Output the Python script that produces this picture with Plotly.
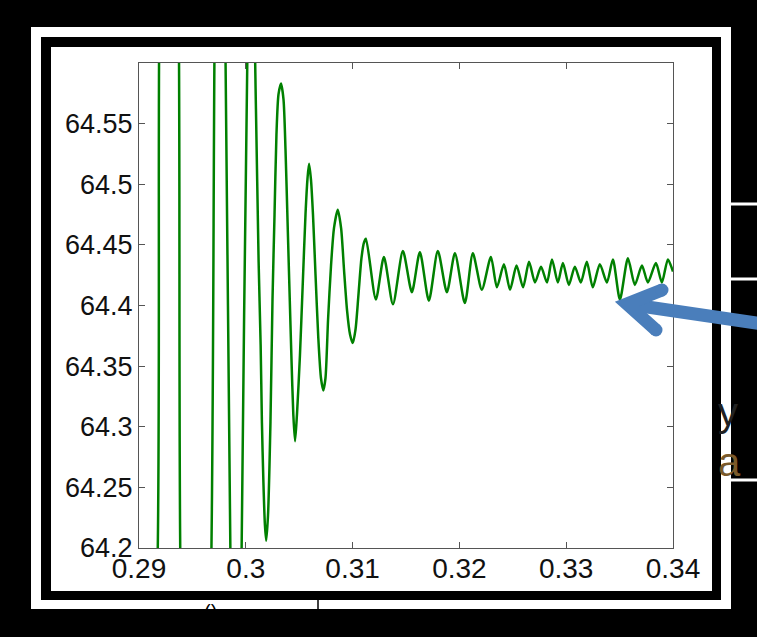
import plotly.graph_objects as go

# ---------------- data ----------------
t_s = [0.29000, 0.29164, 0.29192, 0.29281, 0.29370, 0.29393, 0.29524, 0.29669,
       0.29711, 0.29758, 0.29805, 0.29861, 0.29908, 0.29955, 0.30021, 0.30058,
       0.30095, 0.30120, 0.30139, 0.30151, 0.30165, 0.30179, 0.30191, 0.30208,
       0.30231, 0.30250, 0.30269, 0.30287, 0.30306, 0.30330, 0.30353, 0.30372,
       0.30391, 0.30409, 0.30428, 0.30445, 0.30461, 0.30479, 0.30507, 0.30532,
       0.30559, 0.30578, 0.30592, 0.30610, 0.30629, 0.30653, 0.30679, 0.30704,
       0.30726, 0.30746, 0.30770, 0.30798, 0.30826, 0.30861, 0.30892, 0.30920,
       0.30948, 0.30976, 0.31001, 0.31027, 0.31055, 0.31083, 0.31107, 0.31125,
       0.31218, 0.31293, 0.31378, 0.31471, 0.31555, 0.31630, 0.31714, 0.31798,
       0.31883, 0.31958, 0.32051, 0.32126, 0.32210, 0.32295, 0.32351, 0.32417,
       0.32474, 0.32535, 0.32596, 0.32652, 0.32708, 0.32764, 0.32820, 0.32867,
       0.32922, 0.32969, 0.33025, 0.33081, 0.33137, 0.33193, 0.33249, 0.33315,
       0.33381, 0.33437, 0.33503, 0.33578, 0.33643, 0.33709, 0.33765, 0.33840,
       0.33896, 0.33952, 0.34000]
freq_hz = [63.95, 64.15, 64.65, 64.95, 64.65, 64.15, 63.85, 64.15,
           64.65, 64.85, 64.65, 64.15, 63.95, 64.15, 64.65, 64.72,
           64.562, 64.436, 64.367, 64.303, 64.254, 64.219, 64.206, 64.227,
           64.304, 64.405, 64.475, 64.541, 64.574, 64.583, 64.570, 64.528,
           64.469, 64.413, 64.355, 64.310, 64.288, 64.310, 64.359, 64.415,
           64.475, 64.505, 64.517, 64.504, 64.475, 64.425, 64.373, 64.340,
           64.330, 64.340, 64.388, 64.433, 64.464, 64.479, 64.464, 64.429,
           64.396, 64.376, 64.369, 64.380, 64.409, 64.439, 64.452, 64.455,
           64.405, 64.440, 64.401, 64.445, 64.411, 64.444, 64.404, 64.445,
           64.411, 64.443, 64.402, 64.443, 64.413, 64.440, 64.415, 64.434,
           64.413, 64.433, 64.415, 64.436, 64.419, 64.432, 64.419, 64.438,
           64.419, 64.435, 64.417, 64.432, 64.419, 64.436, 64.415, 64.434,
           64.419, 64.438, 64.405, 64.439, 64.417, 64.433, 64.419, 64.435,
           64.419, 64.438, 64.428]

x_ticks = [0.29, 0.30, 0.31, 0.32, 0.33, 0.34]
x_labels = ["0.29", "0.3", "0.31", "0.32", "0.33", "0.34"]
y_ticks = [64.2, 64.25, 64.3, 64.35, 64.4, 64.45, 64.5, 64.55]
y_labels = ["64.2", "64.25", "64.3", "64.35", "64.4", "64.45", "64.5", "64.55"]

# ---------------- layout geometry (pixels) ----------------
W, H = 757, 637
L, R, T, B = 139, 673, 63, 548


def px(x):
    return (x - L) / (R - L)


def py(y):
    return (B - y) / (B - T)


def rect(x0, y0, x1, y1, color, layer="below"):
    return dict(type="rect", xref="paper", yref="paper",
                x0=px(x0), x1=px(x1), y0=py(y1), y1=py(y0),
                fillcolor=color, line=dict(width=0), layer=layer)


def seg(x0, y0, x1, y1, color, width, layer="above"):
    return dict(type="line", xref="paper", yref="paper",
                x0=px(x0), y0=py(y0), x1=px(x1), y1=py(y1),
                line=dict(color=color, width=width), layer=layer)


fig = go.Figure()
fig.add_trace(go.Scatter(x=t_s, y=freq_hz, mode="lines",
                         line=dict(color="#008000", width=2.5, shape="spline", smoothing=0.7),
                         hoverinfo="skip", showlegend=False))

arrow_c = "#4a7ebb"
shapes = [
    rect(31, 27, 731, 609, "white"),
    rect(41, 37, 721, 600, "black"),
    rect(51, 47, 712, 591, "white"),
    seg(721, 204, 757, 204, "white", 3, "below"),
    seg(721, 279, 757, 279, "white", 3, "below"),
    seg(721, 480, 757, 480, "white", 3, "below"),
    seg(318, 600, 318, 609, "black", 1.5, "below"),
    # arrow
    seg(627, 304, 790, 328, arrow_c, 13),
    dict(type="path", xref="paper", yref="paper", layer="above",
         path="M {:.5f},{:.5f} L {:.5f},{:.5f} L {:.5f},{:.5f}".format(
             px(662), py(290), px(627), py(304), px(656), py(330)),
         line=dict(color=arrow_c, width=13)),
    dict(type="circle", xref="paper", yref="paper", layer="above",
         x0=px(662 - 6.5), x1=px(662 + 6.5), y0=py(290 + 6.5), y1=py(290 - 6.5),
         fillcolor=arrow_c, line=dict(width=0)),
    dict(type="circle", xref="paper", yref="paper", layer="above",
         x0=px(656 - 6.5), x1=px(656 + 6.5), y0=py(330 + 6.5), y1=py(330 - 6.5),
         fillcolor=arrow_c, line=dict(width=0)),
]

annotations = [
    dict(xref="paper", yref="paper", x=px(202), y=py(612), text="()",
         showarrow=False, font=dict(family="Liberation Sans, Arial", size=20, color="black"),
         xanchor="left", yanchor="middle"),
    dict(xref="paper", yref="paper", x=px(716), y=py(412), text="y",
         showarrow=False, font=dict(family="Liberation Sans, Arial", size=40, color="#222222"),
         xanchor="left", yanchor="middle"),
    dict(xref="paper", yref="paper", x=px(716), y=py(462), text="a",
         showarrow=False, font=dict(family="Liberation Sans, Arial", size=40, color="#7a5a2a"),
         xanchor="left", yanchor="middle"),
]

axis_c = "#555555"
fig.update_layout(
    width=W, height=H,
    margin=dict(l=L, r=W - R, t=T, b=H - B, autoexpand=False),
    paper_bgcolor="black", plot_bgcolor="white",
    shapes=shapes,
    annotations=annotations,
    showlegend=False,
    xaxis=dict(range=[0.29, 0.34], tickvals=x_ticks, ticktext=x_labels,
               ticks="inside", ticklen=6, tickcolor=axis_c, tickwidth=1,
               showline=True, linecolor=axis_c, linewidth=1, mirror="ticks",
               showgrid=False, zeroline=False, ticklabelstandoff=-5,
               tickfont=dict(family="Liberation Sans, Arial", size=28, color="#111111")),
    yaxis=dict(range=[64.2, 64.6], tickvals=y_ticks, ticktext=y_labels,
               ticks="inside", ticklen=6, tickcolor=axis_c, tickwidth=1,
               showline=True, linecolor=axis_c, linewidth=1, mirror="ticks",
               showgrid=False, zeroline=False,
               tickfont=dict(family="Liberation Sans, Arial", size=27, color="#111111")),
)

fig.write_html("out.html")
